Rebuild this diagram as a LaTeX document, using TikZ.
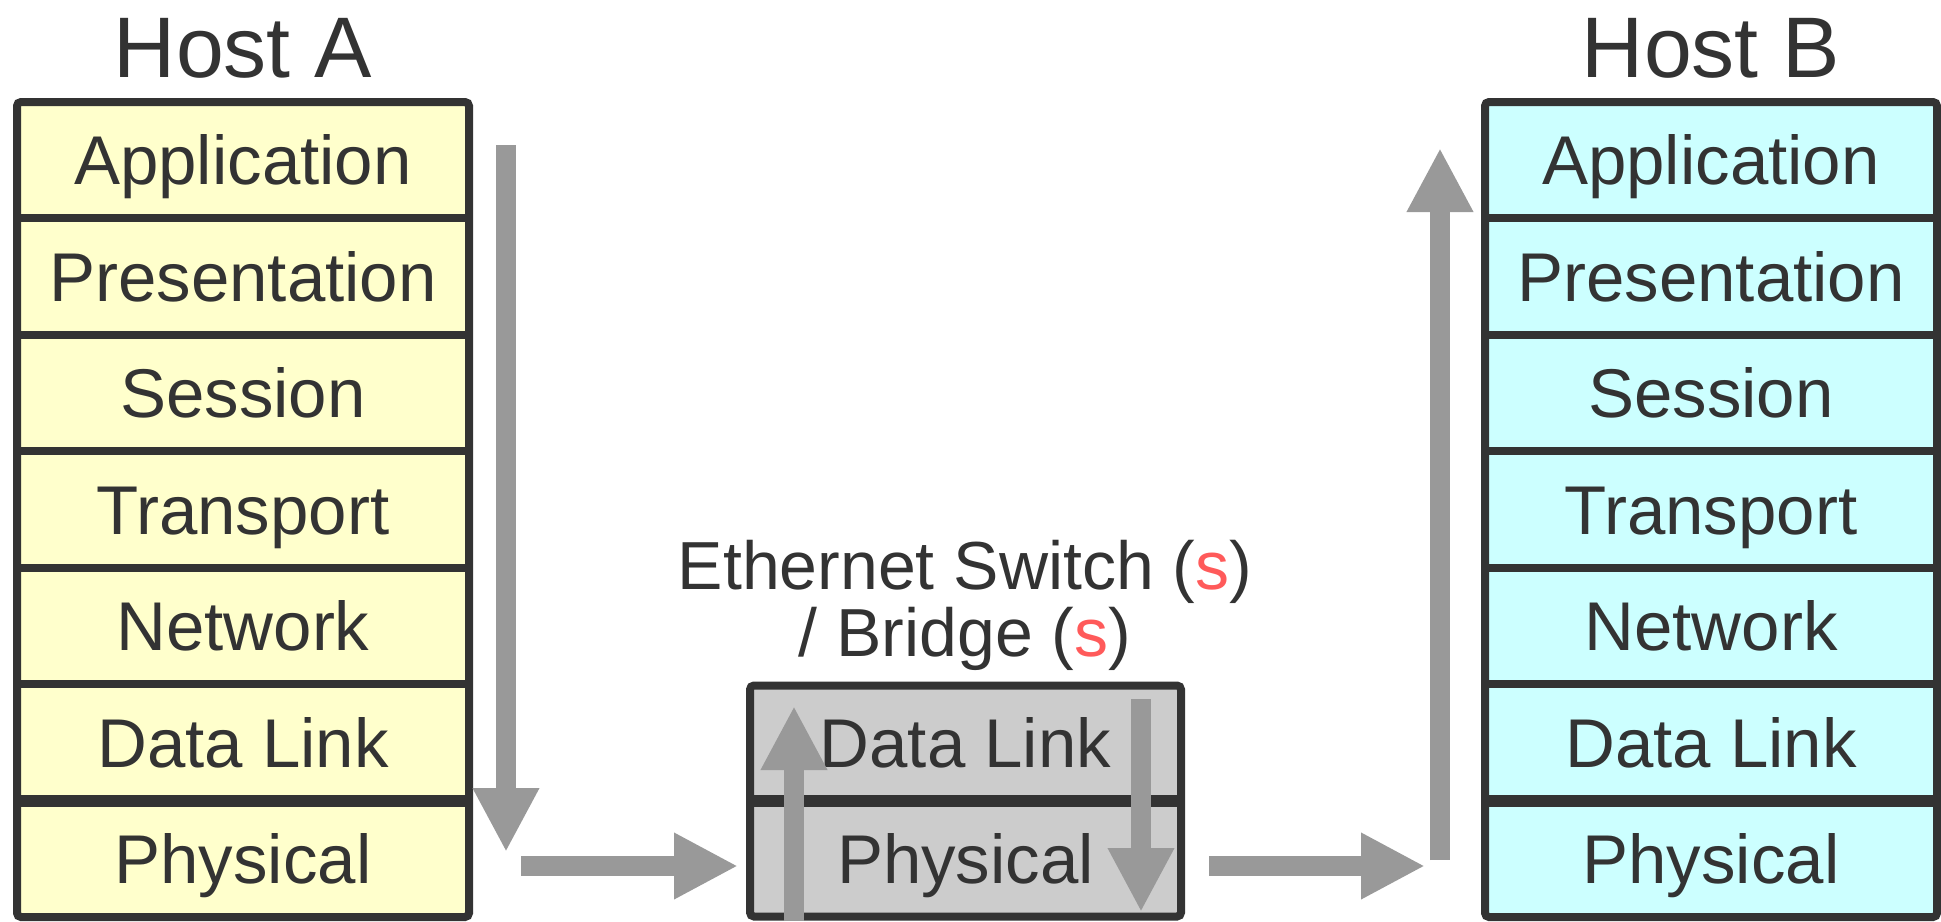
\documentclass[tikz,border=0pt]{standalone}
\usepackage{fontspec}
\setmainfont{Liberation Sans}
\usetikzlibrary{arrows.meta,calc}

\definecolor{ink}{HTML}{333333}
\definecolor{hostAfill}{HTML}{FFFFCC}
\definecolor{hostBfill}{HTML}{CCFFFF}
\definecolor{switchfill}{HTML}{CCCCCC}
\definecolor{flow}{HTML}{999999}
\definecolor{plural}{HTML}{FF5A5A}

\begin{document}
\begin{tikzpicture}[x=1pt,y=-1pt,
  frame/.style={draw=ink, line width=8pt, rounded corners=4pt, inner sep=0pt, outer sep=0pt},
  divider/.style={draw=ink, line width=8pt},
  thickdivider/.style={draw=ink, line width=12pt},
  layer/.style={font=\fontsize{69}{80}\selectfont, text=ink, inner sep=0pt,
                text height=49.4pt, text depth=0pt},
  hostlabel/.style={font=\fontsize{86}{100}\selectfont, text=ink, inner sep=0pt, anchor=base},
  switchlabel/.style={font=\fontsize{68}{70}\selectfont, text=ink, inner sep=0pt, anchor=base},
  flowarrow/.style={draw=flow, line width=20pt,
                    -{Triangle[width=62pt,length=64pt]}},
]
\useasboundingbox (0,0) rectangle (1941,921);

% ---- Host A stack ----
\node[hostlabel] (labelA) at (243,77) {Host A};
\node[frame, fill=hostAfill, minimum width=452pt, minimum height=815pt] (hostA) at (243,509.5) {};
\foreach \k in {1,...,5}
  \draw[divider] ($(hostA.north west)!\k/7!(hostA.south west)$) -- ($(hostA.north east)!\k/7!(hostA.south east)$);
\draw[thickdivider] ($(hostA.north west)!6/7!(hostA.south west)$) -- ($(hostA.north east)!6/7!(hostA.south east)$);
\foreach \name [count=\i from 0] in {Application,Presentation,Session,Transport,Network,Data Link,Physical}
  \node[layer] (A\i) at ($(hostA.north)!{(\i+0.5)/7}!(hostA.south)$) {\name};

% ---- Host B stack ----
\node[hostlabel] (labelB) at (1711,77) {Host B};
\node[frame, fill=hostBfill, minimum width=452pt, minimum height=815pt] (hostB) at (1711,509.5) {};
\foreach \k in {1,...,5}
  \draw[divider] ($(hostB.north west)!\k/7!(hostB.south west)$) -- ($(hostB.north east)!\k/7!(hostB.south east)$);
\draw[thickdivider] ($(hostB.north west)!6/7!(hostB.south west)$) -- ($(hostB.north east)!6/7!(hostB.south east)$);
\foreach \name [count=\i from 0] in {Application,Presentation,Session,Transport,Network,Data Link,Physical}
  \node[layer] (B\i) at ($(hostB.north)!{(\i+0.5)/7}!(hostB.south)$) {\name};

% ---- Switch / bridge ----
\node[switchlabel] (labelS1) at (965,589) {Ethernet Switch ({\color{plural}s})};
\node[switchlabel] (labelS2) at (965,656) {/ Bridge ({\color{plural}s})};
\node[frame, fill=switchfill, minimum width=431pt, minimum height=231pt] (switch) at (965.5,801) {};
\draw[thickdivider] (switch.west) -- (switch.east);
\node[layer] (S0) at ($(switch.north)!0.25!(switch.south)$) {Data Link};
\node[layer] (S1) at ($(switch.north)!0.75!(switch.south)$) {Physical};

% ---- data flow ----
\coordinate (downTop) at (506,145);
\coordinate (downTip) at (506,852);
\coordinate (hopOneStart) at (521,866);
\coordinate (hopOneTip) at (738,866);
\coordinate (swUpStart) at (794,921);
\coordinate (swUpTip) at (794,706);
\coordinate (swDownStart) at (1141,699);
\coordinate (swDownTip) at (1141,912);
\coordinate (hopTwoStart) at (1209,866);
\coordinate (hopTwoTip) at (1425,866);
\coordinate (upStart) at (1440,860);
\coordinate (upTip) at (1440,148);

\draw[flowarrow] (downTop) -- (downTip);
\draw[flowarrow] (hopOneStart) -- (hopOneTip);
\draw[flowarrow] (swUpStart) -- (swUpTip);
\draw[flowarrow] (swDownStart) -- (swDownTip);
\draw[flowarrow] (hopTwoStart) -- (hopTwoTip);
\draw[flowarrow] (upStart) -- (upTip);
\end{tikzpicture}
\end{document}
